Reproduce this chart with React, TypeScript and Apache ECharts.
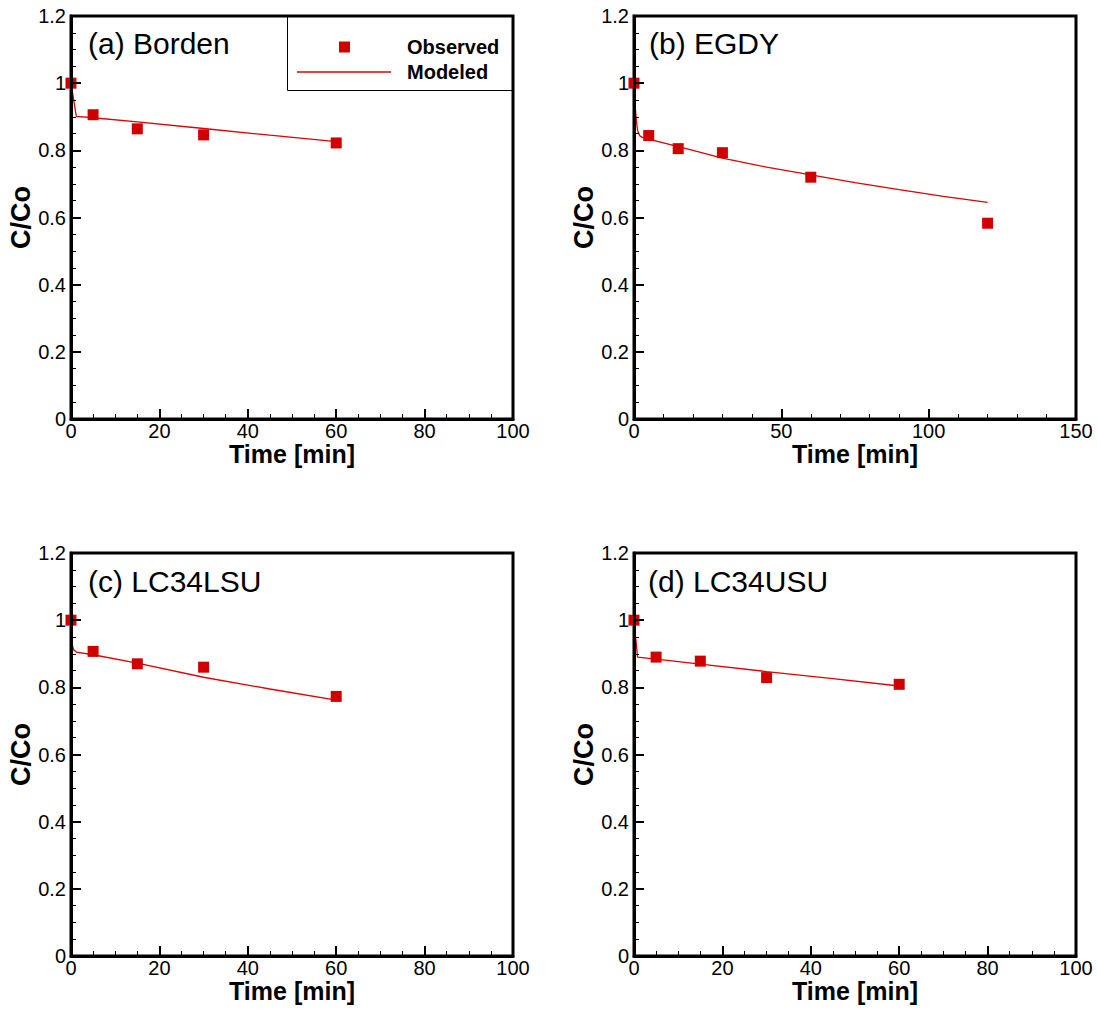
import React, { useEffect, useRef } from "react";
import * as echarts from "echarts";

// ---- data ----
const bordenObsT = [0, 5, 15, 30, 60];
const bordenObs = [1.0, 0.906, 0.864, 0.846, 0.822];
const bordenModT = [0, 1.2, 5, 15, 30, 45, 60];
const bordenMod = [1.0, 0.901, 0.897, 0.885, 0.865, 0.845, 0.826];

const egdyObsT = [0, 5, 15, 30, 60, 120];
const egdyObs = [1.0, 0.844, 0.805, 0.793, 0.72, 0.583];
const egdyModT = [0, 0.2, 0.5, 0.8, 1.2, 2, 3, 5, 10, 15, 20, 30, 45, 60, 75, 90, 105, 120];
const egdyMod = [1.0, 0.96, 0.92, 0.89, 0.86, 0.843, 0.838, 0.833, 0.822, 0.811, 0.8, 0.777, 0.75, 0.727, 0.704, 0.683, 0.663, 0.645];

const lsuObsT = [0, 5, 15, 30, 60];
const lsuObs = [1.0, 0.907, 0.87, 0.86, 0.773];
const lsuModT = [0, 0.2, 0.6, 1.2, 5, 15, 30, 45, 60];
const lsuMod = [1.0, 0.93, 0.912, 0.905, 0.897, 0.872, 0.83, 0.795, 0.762];

const usuObsT = [0, 5, 15, 30, 60];
const usuObs = [1.0, 0.89, 0.878, 0.829, 0.809];
const usuModT = [0, 0.8, 5, 15, 30, 45, 60];
const usuMod = [1.0, 0.89, 0.884, 0.869, 0.847, 0.826, 0.804];

const panelTitles = ["(a) Borden", "(b) EGDY", "(c) LC34LSU", "(d) LC34USU"];
const xMaxes = [100, 150, 100, 100];
const xIntervals = [20, 50, 20, 20];
const xMinorSplits = [4, 5, 4, 4];

const FONT = "Liberation Sans, Arial, Helvetica, sans-serif";
const RED = "#d00000";
const LINE_RED = "#e00000";

const zip = (a: number[], b: number[]) => a.map((v, i) => [v, b[i]]);

export default function App() {
  const ref = useRef<HTMLDivElement>(null);
  useEffect(() => {
    if (!ref.current) return;
    const chart = echarts.init(ref.current, undefined, { renderer: "svg" });
    const grids = [
      { left: 71, top: 16, width: 442, height: 403 },
      { left: 634, top: 16, width: 442, height: 403 },
      { left: 71, top: 553, width: 442, height: 403 },
      { left: 634, top: 553, width: 442, height: 403 },
    ];
    const obs = [
      zip(bordenObsT, bordenObs),
      zip(egdyObsT, egdyObs),
      zip(lsuObsT, lsuObs),
      zip(usuObsT, usuObs),
    ];
    const mod = [
      zip(bordenModT, bordenMod),
      zip(egdyModT, egdyMod),
      zip(lsuModT, lsuMod),
      zip(usuModT, usuMod),
    ];
    const titlePos = [
      { left: 88, top: 28 },
      { left: 649, top: 28 },
      { left: 88, top: 566 },
      { left: 648, top: 566 },
    ];
    const option: any = {
      animation: false,
      backgroundColor: "#fff",
      title: panelTitles.map((t, i) => ({
        text: t,
        left: titlePos[i].left,
        top: titlePos[i].top,
        padding: 0,
        textStyle: { fontSize: 30, fontWeight: "normal", color: "#000", fontFamily: FONT },
      })),
      grid: grids.map((g) => ({
        ...g,
        show: true,
        borderColor: "#000",
        borderWidth: 3,
        backgroundColor: "transparent",
      })),
      xAxis: grids.map((_, i) => ({
        gridIndex: i,
        type: "value",
        min: 0,
        max: xMaxes[i],
        interval: xIntervals[i],
        axisLine: { show: true, onZero: false, lineStyle: { color: "#000", width: 3 } },
        axisTick: { show: true, inside: true, length: 10, lineStyle: { color: "#000", width: 2 } },
        minorTick: { show: true, splitNumber: xMinorSplits[i], length: 5, lineStyle: { color: "#000", width: 1 } },
        splitLine: { show: false },
        axisLabel: { color: "#000", fontSize: 20, margin: 2, fontFamily: FONT },
        name: "Time [min]",
        nameLocation: "middle",
        nameGap: 21,
        nameTextStyle: { color: "#000", fontSize: 25, fontWeight: "bold", fontFamily: FONT },
        z: 5,
      })),
      yAxis: grids.map((_, i) => ({
        gridIndex: i,
        type: "value",
        min: 0,
        max: 1.2,
        interval: 0.2,
        axisLine: { show: true, onZero: false, lineStyle: { color: "#000", width: 3 } },
        axisTick: { show: true, inside: true, length: 10, lineStyle: { color: "#000", width: 2 } },
        minorTick: { show: true, splitNumber: 4, length: 5, lineStyle: { color: "#000", width: 1 } },
        splitLine: { show: false },
        axisLabel: { color: "#000", fontSize: 20, margin: 5, fontFamily: FONT },
        name: "C/Co",
        nameLocation: "middle",
        nameGap: 35,
        nameTextStyle: { color: "#000", fontSize: 27, fontWeight: "bold", fontFamily: FONT },
        z: 5,
      })),
      legend: [
        {
          data: [{ name: "Observed", icon: "rect" }],
          left: 339,
          top: 37,
          orient: "vertical",
          padding: 0,
          itemWidth: 11,
          itemHeight: 11,
          selectedMode: false,
          itemStyle: { color: RED, opacity: 1 },
          textStyle: {
            color: "#000",
            fontSize: 20,
            fontWeight: "bold",
            fontFamily: FONT,
            lineHeight: 20,
            padding: [0, 0, 0, 52],
          },
        },
        {
          data: [{ name: "Modeled", icon: "rect" }],
          left: 297,
          top: 62,
          orient: "vertical",
          padding: 0,
          itemWidth: 94,
          itemHeight: 1.3,
          selectedMode: false,
          itemStyle: { color: LINE_RED, opacity: 1 },
          textStyle: {
            color: "#000",
            fontSize: 20,
            fontWeight: "bold",
            fontFamily: FONT,
            lineHeight: 20,
            padding: [0, 0, 0, 11],
          },
        },
      ],
      graphic: [
        {
          type: "rect",
          shape: { x: 287.5, y: 16.5, width: 226, height: 74 },
          style: { fill: "#fff", stroke: "#000", lineWidth: 1 },
          z: -1,
          silent: true,
        },
      ],
      series: [
        ...mod.map((d, i) => ({
          name: "Modeled",
          type: "line",
          xAxisIndex: i,
          yAxisIndex: i,
          data: d,
          symbol: "none",
          showSymbol: false,
          lineStyle: { color: LINE_RED, width: 1.3 },
          itemStyle: { color: LINE_RED },
          z: 3,
        })),
        ...obs.map((d, i) => ({
          name: "Observed",
          type: "scatter",
          xAxisIndex: i,
          yAxisIndex: i,
          data: d,
          symbol: "rect",
          symbolSize: 11,
          itemStyle: { color: RED, opacity: 1 },
          z: 4,
        })),
      ],
    };
    chart.setOption(option);
    return () => chart.dispose();
  }, []);
  return (
    <div
      ref={ref}
      style={{ position: "absolute", left: 0, top: 0, width: 1097, height: 1011 }}
    />
  );
}
